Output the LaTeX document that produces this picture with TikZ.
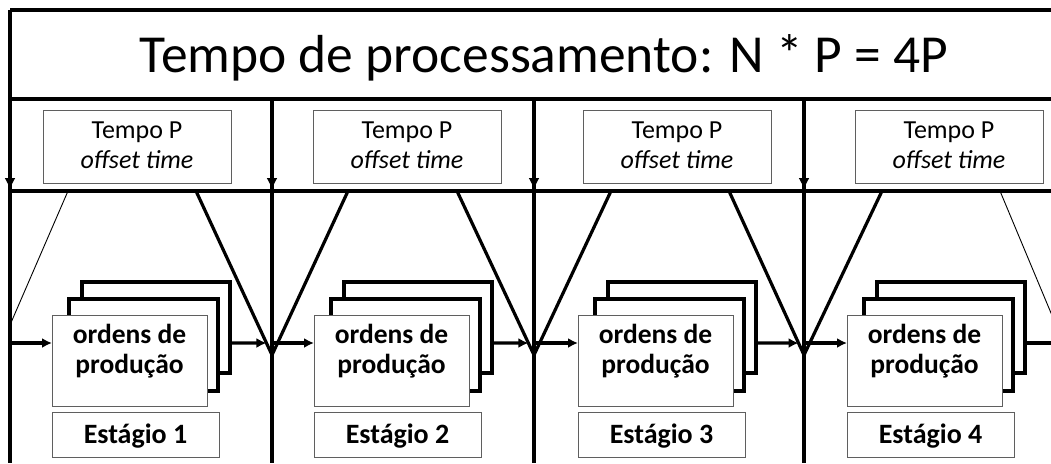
\documentclass[tikz,border=0pt]{standalone}
\usepackage{fontspec}
\setmainfont{Carlito}
\usetikzlibrary{arrows.meta}
\definecolor{boxgray}{RGB}{95,95,95}
\begin{document}
\begin{tikzpicture}[x=1pt,y=-1pt,
  thickln/.style={line width=3.2pt,line join=miter},
  thinln/.style={line width=0.9pt},
  arr/.style={thickln,-{Latex[length=10pt,width=10pt]}},
  varr/.style={thickln,-{Latex[length=12pt,width=11pt]}},
  hbox/.style={draw=boxgray,line width=0.9pt,fill=white,inner sep=0pt,outer sep=0pt,anchor=north west},
  stackbox/.style={draw=black,line width=3.2pt,fill=white,inner sep=0pt,outer sep=0pt,anchor=north west},
  tptext/.style={anchor=base,font=\fontsize{26}{31}\selectfont},
  tptexti/.style={anchor=base,font=\fontsize{26}{31}\selectfont\itshape},
  optext/.style={anchor=base,font=\fontsize{27.5}{32}\selectfont\bfseries},
  estext/.style={anchor=base,font=\fontsize{28}{33}\selectfont\bfseries},
  titletext/.style={anchor=base,font=\fontsize{53.5}{62}\selectfont}
]
\useasboundingbox (0,0) rectangle (1051,463);
\clip (0,0) rectangle (1051,463);
% frame
\coordinate (TL) at (10,10); \coordinate (TR) at (1060,10);
\coordinate (ML) at (10,99); \coordinate (MR) at (1060,99);
\coordinate (BL) at (10,191); \coordinate (BR) at (1060,191);
\draw[thickln] (TR) -- (TL);
\draw[thickln] (ML) -- (MR);
\draw[thickln] (BL) -- (BR);
\draw[thickln] (TL) -- (ML);
\node[titletext] (title) at (544,72) {Tempo de processamento: N * P = 4P};
% stages
\foreach \i/\v/\t/\f in {1/10/43/52, 2/272/313/314, 3/534/583/578, 4/804/855/847} {
  \coordinate (va\i) at (\v,99);
  \coordinate (vb\i) at (\v,190);
  \coordinate (vc\i) at (\v,463);
  \coordinate (h\i) at (\v,343);
  \draw[thickln] (va\i) -- (vc\i);
  \draw[varr] (va\i) -- (vb\i);
  \node[hbox,minimum width=188pt,minimum height=73pt] (tp\i) at (\t,110) {};
  \node[tptext] (tpa\i) at ({\t+94},138) {Tempo P};
  \node[tptexti] (tpb\i) at ({\t+94},168) {offset time};
  \node[stackbox,minimum width=148pt,minimum height=91pt] (bk\i) at ({\f+30},282) {};
  \node[stackbox,minimum width=149pt,minimum height=92pt] (md\i) at ({\f+17},299) {};
  \node[hbox,minimum width=155pt,minimum height=91pt] (fr\i) at (\f,315) {};
  \node[optext] (opa\i) at ({\f+77.5},343) {ordens de};
  \node[optext] (opb\i) at ({\f+77.5},373) {produção};
  \node[hbox,minimum width=167pt,minimum height=45pt] (es\i) at (\f,412) {};
  \node[estext] (est\i) at ({\f+83.5},443) {Estágio \i};
  \draw[arr] (h\i) -- (fr\i.west |- h\i);
}
% funnels
\coordinate (ap2) at (272,355);
\coordinate (ap3) at (534,355);
\coordinate (ap4) at (804,355);
\draw[thinln] (68,191) -- (10,325);
\draw[thickln] (196,191) -- (ap2) -- (348,191);
\draw[thickln] (457,191) -- (ap3) -- (611,191);
\draw[thickln] (729,191) -- (ap4) -- (882,191);
\draw[thinln] (1000,191) -- (1056,325);
% outgoing arrows
\coordinate (e1) at (intersection of 196,191--272,355 and 0,343--1051,343);
\coordinate (e2) at (intersection of 457,191--534,355 and 0,343--1051,343);
\coordinate (e3) at (intersection of 729,191--804,355 and 0,343--1051,343);
\draw[arr] (bk1.east |- h1) -- (e1);
\draw[arr] (bk2.east |- h2) -- (e2);
\draw[arr] (bk3.east |- h3) -- (e3);
\draw[thickln] (bk4.east |- h4) -- (1060,343);
\end{tikzpicture}
\end{document}
